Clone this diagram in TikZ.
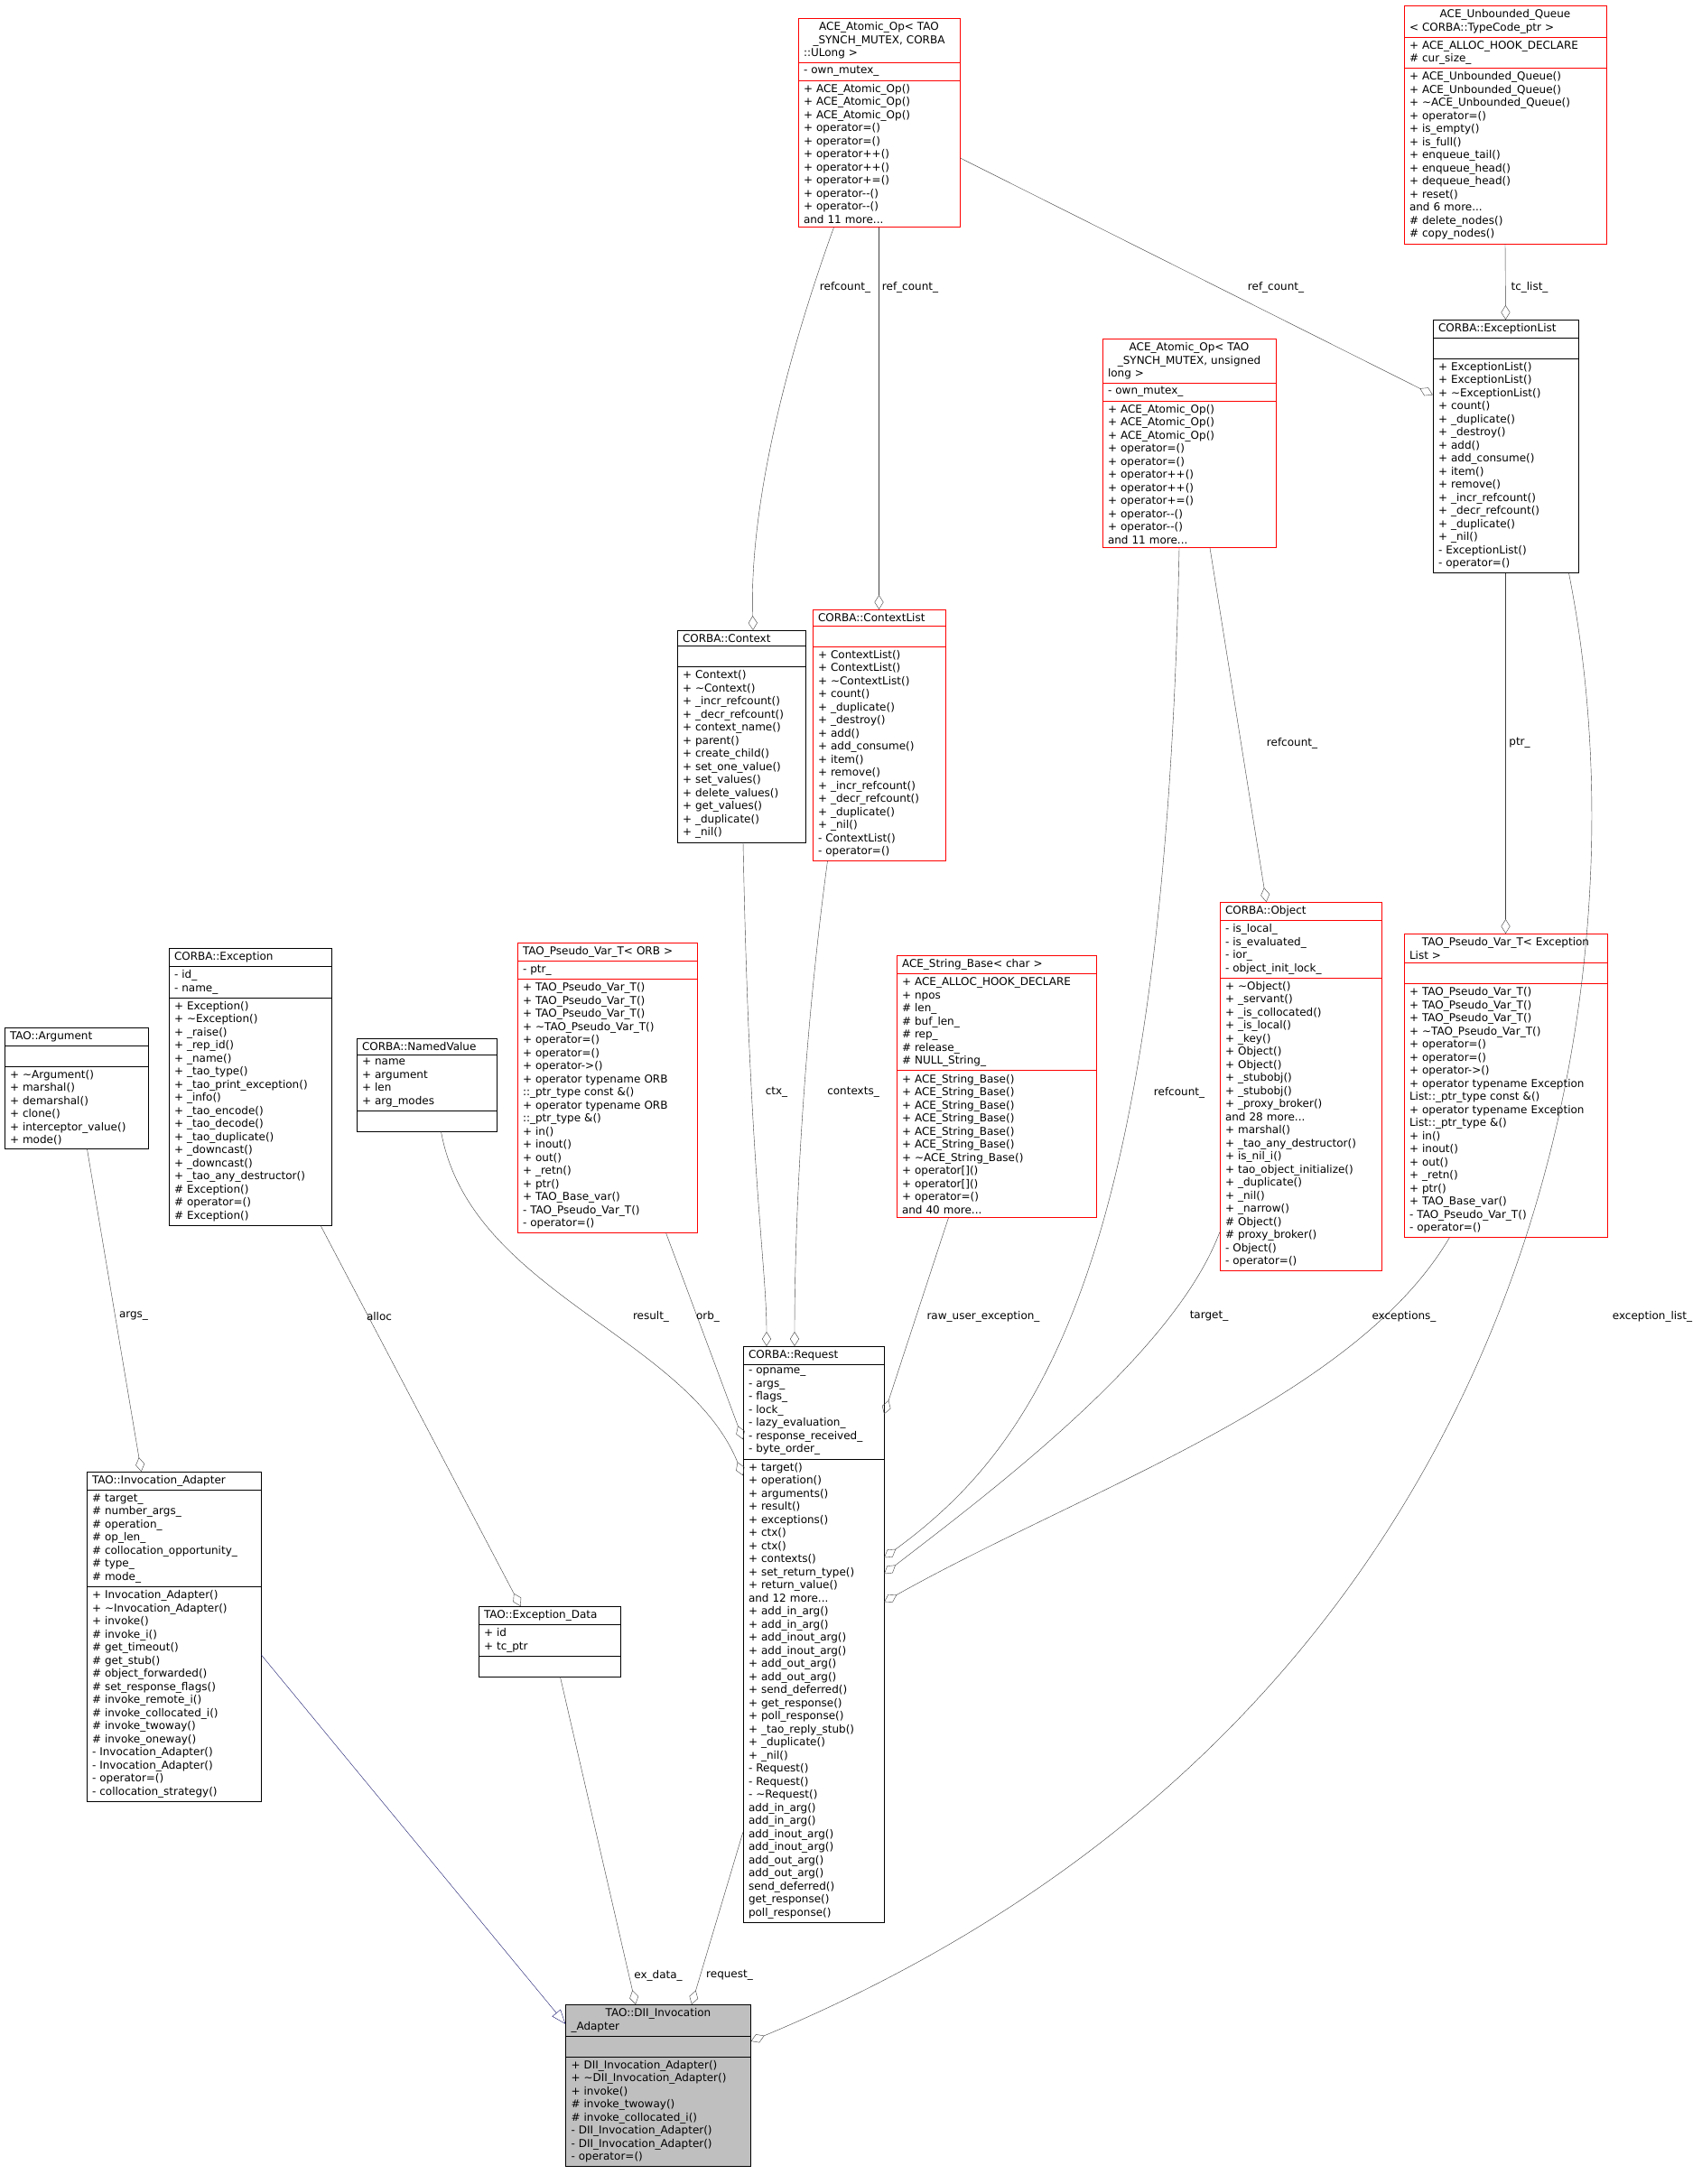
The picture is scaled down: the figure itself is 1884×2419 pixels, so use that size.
\documentclass[tikz,border=0pt]{standalone}
\usepackage{fontspec}
\setmainfont{DejaVu Sans}
\usetikzlibrary{shapes.multipart}
\usetikzlibrary{arrows.meta}

\tikzset{
	umlfont/.style={font=\fontsize{12}{14.5}\selectfont},
	umlclass/.style={rectangle split, rectangle split parts=3, draw=black, anchor=north,
		umlfont, align=left, inner xsep=6pt, inner ysep=4pt, text width=#1, fill=white},
	redclass/.style={umlclass=#1, draw=red},
	agg/.style={draw=black!75, -{Diamond[open,length=16pt,width=10pt]}},
	inherit/.style={draw={rgb,255:red,25;green,25;blue,112}, -{Triangle[open,length=16pt,width=12pt]}},
	edgelabel/.style={umlfont, inner sep=1pt}
}

\begin{document}
\begin{tikzpicture}[x=1pt,y=-1pt]

	\useasboundingbox[fill=white] (0,0) rectangle (1884,2419);

	\node[redclass=167] (atomicA) at (973.5,20) {\centering ACE\_Atomic\_Op< TAO\\\_SYNCH\_MUTEX, CORBA\\::ULong >
		\nodepart{two} - own\_mutex\_
		\nodepart{three} + ACE\_Atomic\_Op()\\+ ACE\_Atomic\_Op()\\+ ACE\_Atomic\_Op()\\+ operator=()\\+ operator=()\\+ operator++()\\+ operator++()\\+ operator+=()\\+ operator-{}-()\\+ operator-{}-()\\and 11 more...};

	\node[redclass=212] (queue) at (1667,6) {\centering ACE\_Unbounded\_Queue\\< CORBA::TypeCode\_ptr >
		\nodepart{two} + ACE\_ALLOC\_HOOK\_DECLARE\\\# cur\_size\_
		\nodepart{three} + ACE\_Unbounded\_Queue()\\+ ACE\_Unbounded\_Queue()\\+ \textasciitilde ACE\_Unbounded\_Queue()\\+ operator=()\\+ is\_empty()\\+ is\_full()\\+ enqueue\_tail()\\+ enqueue\_head()\\+ dequeue\_head()\\+ reset()\\and 6 more...\\\# delete\_nodes()\\\# copy\_nodes()};

	\node[umlclass=149] (exclist) at (1667.5,354) {\centering CORBA::ExceptionList
		\nodepart{two} \strut
		\nodepart{three} + ExceptionList()\\+ ExceptionList()\\+ \textasciitilde ExceptionList()\\+ count()\\+ \_duplicate()\\+ \_destroy()\\+ add()\\+ add\_consume()\\+ item()\\+ remove()\\+ \_incr\_refcount()\\+ \_decr\_refcount()\\+ \_duplicate()\\+ \_nil()\\- ExceptionList()\\- operator=()};

	\node[redclass=180] (atomicB) at (1317,375) {\centering ACE\_Atomic\_Op< TAO\\\_SYNCH\_MUTEX, unsigned\\long >
		\nodepart{two} - own\_mutex\_
		\nodepart{three} + ACE\_Atomic\_Op()\\+ ACE\_Atomic\_Op()\\+ ACE\_Atomic\_Op()\\+ operator=()\\+ operator=()\\+ operator++()\\+ operator++()\\+ operator+=()\\+ operator-{}-()\\+ operator-{}-()\\and 11 more...};

	\node[umlclass=130] (ctx) at (821,698) {\centering CORBA::Context
		\nodepart{two} \strut
		\nodepart{three} + Context()\\+ \textasciitilde Context()\\+ \_incr\_refcount()\\+ \_decr\_refcount()\\+ context\_name()\\+ parent()\\+ create\_child()\\+ set\_one\_value()\\+ set\_values()\\+ delete\_values()\\+ get\_values()\\+ \_duplicate()\\+ \_nil()};

	\node[redclass=135] (ctxlist) at (973.5,675) {\centering CORBA::ContextList
		\nodepart{two} \strut
		\nodepart{three} + ContextList()\\+ ContextList()\\+ \textasciitilde ContextList()\\+ count()\\+ \_duplicate()\\+ \_destroy()\\+ add()\\+ add\_consume()\\+ item()\\+ remove()\\+ \_incr\_refcount()\\+ \_decr\_refcount()\\+ \_duplicate()\\+ \_nil()\\- ContextList()\\- operator=()};

	\node[redclass=167] (object) at (1440.5,999) {\centering CORBA::Object
		\nodepart{two} - is\_local\_\\- is\_evaluated\_\\- ior\_\\- object\_init\_lock\_
		\nodepart{three} + \textasciitilde Object()\\+ \_servant()\\+ \_is\_collocated()\\+ \_is\_local()\\+ \_key()\\+ Object()\\+ Object()\\+ \_stubobj()\\+ \_stubobj()\\+ \_proxy\_broker()\\and 28 more...\\+ marshal()\\+ \_tao\_any\_destructor()\\+ is\_nil\_i()\\+ tao\_object\_initialize()\\+ \_duplicate()\\+ \_nil()\\+ \_narrow()\\\# Object()\\\# proxy\_broker()\\- Object()\\- operator=()};

	\node[redclass=213] (pseudoexc) at (1667.5,1034) {\centering TAO\_Pseudo\_Var\_T< Exception\\List >
		\nodepart{two} \strut
		\nodepart{three} + TAO\_Pseudo\_Var\_T()\\+ TAO\_Pseudo\_Var\_T()\\+ TAO\_Pseudo\_Var\_T()\\+ \textasciitilde TAO\_Pseudo\_Var\_T()\\+ operator=()\\+ operator=()\\+ operator->()\\+ operator typename Exception\\List::\_ptr\_type const \&()\\+ operator typename Exception\\List::\_ptr\_type \&()\\+ in()\\+ inout()\\+ out()\\+ \_retn()\\+ ptr()\\+ TAO\_Base\_var()\\- TAO\_Pseudo\_Var\_T()\\- operator=()};

	\node[redclass=209] (strbase) at (1103.5,1058) {\centering ACE\_String\_Base< char >
		\nodepart{two} + ACE\_ALLOC\_HOOK\_DECLARE\\+ npos\\\# len\_\\\# buf\_len\_\\\# rep\_\\\# release\_\\\# NULL\_String\_
		\nodepart{three} + ACE\_String\_Base()\\+ ACE\_String\_Base()\\+ ACE\_String\_Base()\\+ ACE\_String\_Base()\\+ ACE\_String\_Base()\\+ ACE\_String\_Base()\\+ \textasciitilde ACE\_String\_Base()\\+ operator[]()\\+ operator[]()\\+ operator=()\\and 40 more...};

	\node[redclass=187] (pseudoorb) at (672.5,1044) {\centering TAO\_Pseudo\_Var\_T< ORB >
		\nodepart{two} - ptr\_
		\nodepart{three} + TAO\_Pseudo\_Var\_T()\\+ TAO\_Pseudo\_Var\_T()\\+ TAO\_Pseudo\_Var\_T()\\+ \textasciitilde TAO\_Pseudo\_Var\_T()\\+ operator=()\\+ operator=()\\+ operator->()\\+ operator typename ORB\\::\_ptr\_type const \&()\\+ operator typename ORB\\::\_ptr\_type \&()\\+ in()\\+ inout()\\+ out()\\+ \_retn()\\+ ptr()\\+ TAO\_Base\_var()\\- TAO\_Pseudo\_Var\_T()\\- operator=()};

	\node[umlclass=143] (namedval) at (472.5,1150) {\centering CORBA::NamedValue
		\nodepart{two} + name\\+ argument\\+ len\\+ arg\_modes
		\nodepart{three} \strut};

	\node[umlclass=168] (exc) at (277,1050) {\centering CORBA::Exception
		\nodepart{two} - id\_\\- name\_
		\nodepart{three} + Exception()\\+ \textasciitilde Exception()\\+ \_raise()\\+ \_rep\_id()\\+ \_name()\\+ \_tao\_type()\\+ \_tao\_print\_exception()\\+ \_info()\\+ \_tao\_encode()\\+ \_tao\_decode()\\+ \_tao\_duplicate()\\+ \_downcast()\\+ \_downcast()\\+ \_tao\_any\_destructor()\\\# Exception()\\\# operator=()\\\# Exception()};

	\node[umlclass=147] (arg) at (84.5,1138) {\centering TAO::Argument
		\nodepart{two} \strut
		\nodepart{three} + \textasciitilde Argument()\\+ marshal()\\+ demarshal()\\+ clone()\\+ interceptor\_value()\\+ mode()};

	\node[umlclass=181] (inv) at (192.5,1630) {\centering TAO::Invocation\_Adapter
		\nodepart{two} \# target\_\\\# number\_args\_\\\# operation\_\\\# op\_len\_\\\# collocation\_opportunity\_\\\# type\_\\\# mode\_
		\nodepart{three} + Invocation\_Adapter()\\+ \textasciitilde Invocation\_Adapter()\\+ invoke()\\\# invoke\_i()\\\# get\_timeout()\\\# get\_stub()\\\# object\_forwarded()\\\# set\_response\_flags()\\\# invoke\_remote\_i()\\\# invoke\_collocated\_i()\\\# invoke\_twoway()\\\# invoke\_oneway()\\- Invocation\_Adapter()\\- Invocation\_Adapter()\\- operator=()\\- collocation\_strategy()};

	\node[umlclass=145] (excdata) at (608.5,1779) {\centering TAO::Exception\_Data
		\nodepart{two} + id\\+ tc\_ptr
		\nodepart{three} \strut};

	\node[umlclass=144] (req) at (901,1491) {\centering CORBA::Request
		\nodepart{two} - opname\_\\- args\_\\- flags\_\\- lock\_\\- lazy\_evaluation\_\\- response\_received\_\\- byte\_order\_
		\nodepart{three} + target()\\+ operation()\\+ arguments()\\+ result()\\+ exceptions()\\+ ctx()\\+ ctx()\\+ contexts()\\+ set\_return\_type()\\+ return\_value()\\and 12 more...\\+ add\_in\_arg()\\+ add\_in\_arg()\\+ add\_inout\_arg()\\+ add\_inout\_arg()\\+ add\_out\_arg()\\+ add\_out\_arg()\\+ send\_deferred()\\+ get\_response()\\+ poll\_response()\\+ \_tao\_reply\_stub()\\+ \_duplicate()\\+ \_nil()\\- Request()\\- Request()\\- \textasciitilde Request()\\* add\_in\_arg()\\* add\_in\_arg()\\* add\_inout\_arg()\\* add\_inout\_arg()\\* add\_out\_arg()\\* add\_out\_arg()\\* send\_deferred()\\* get\_response()\\* poll\_response()};

	\node[umlclass=193, fill=black!25] (dii) at (729,2220) {\centering TAO::DII\_Invocation\\\_Adapter
		\nodepart{two} \strut
		\nodepart{three} + DII\_Invocation\_Adapter()\\+ \textasciitilde DII\_Invocation\_Adapter()\\+ invoke()\\\# invoke\_twoway()\\\# invoke\_collocated\_i()\\- DII\_Invocation\_Adapter()\\- DII\_Invocation\_Adapter()\\- operator=()};

	% aggregations
	\draw[agg] ([xshift=-50pt]atomicA.south) .. controls (870,400) and (830,560) .. ([xshift=13pt]ctx.north);
	\draw[agg] (atomicA.south) -- (ctxlist.north);
	\draw[agg] ([yshift=-39pt]atomicA.east) -- ([yshift=57pt]exclist.west);
	\draw[agg] (queue.south) -- (exclist.north);
	\draw[agg] ([xshift=23pt]atomicB.south) -- ([xshift=-38pt]object.north);
	\draw[agg] (exclist.south) -- (pseudoexc.north);
	\draw[agg] ([xshift=70pt]exclist.south) .. controls (1830,1100) and (1700,1900) .. ([yshift=49pt]dii.east);
	\draw[agg] ([xshift=2pt]ctx.south) .. controls (830,1300) and (849,1400) .. ([xshift=-52pt]req.north);
	\draw[agg] ([xshift=-57pt]ctxlist.south) .. controls (890,1150) and (880,1350) .. ([xshift=-21pt]req.north);
	\draw[agg] ([xshift=-11pt]atomicB.south) .. controls (1290,1400) and (1150,1600) .. ([yshift=85pt]req.east);
	\draw[agg] ([yshift=43pt]object.south west) .. controls (1300,1500) and (1100,1650) .. ([yshift=67pt]req.east);
	\draw[agg] ([xshift=-62pt]pseudoexc.south) .. controls (1500,1550) and (1200,1650) .. ([yshift=36pt]req.east);
	\draw[agg] ([xshift=-53pt]strbase.south) -- ([yshift=244pt]req.east);
	\draw[agg] ([xshift=65pt]pseudoorb.south) -- ([yshift=216pt]req.west);
	\draw[agg] ([xshift=16pt]namedval.south) .. controls (520,1430) and (760,1480) .. ([yshift=176pt]req.west);
	\draw[agg] ([xshift=78pt]exc.south) -- ([xshift=-32pt]excdata.north);
	\draw[agg] ([xshift=12pt]arg.south) -- ([xshift=-36pt]inv.north);
	\draw[agg] ([xshift=12pt]excdata.south) -- ([xshift=-25pt]dii.north);
	\draw[agg] ([yshift=100pt]req.south west) -- ([xshift=37pt]dii.north);

	% inheritance
	\draw[inherit] ([yshift=-20pt]inv.east) -- ([yshift=68pt]dii.west);

	% labels
	\node[edgelabel] (lrefa) at (936,318) {refcount\_};
	\node[edgelabel] (lrefb) at (1008,318) {ref\_count\_};
	\node[edgelabel] (lrefc) at (1413,318) {ref\_count\_};
	\node[edgelabel] (ltclist) at (1694,318) {tc\_list\_};
	\node[edgelabel] (lrefd) at (1431,823) {refcount\_};
	\node[edgelabel] (lptr) at (1683,823) {ptr\_};
	\node[edgelabel] (lexclist) at (1830,1458) {exception\_list\_};
	\node[edgelabel] (lctx) at (860,1210) {ctx\_};
	\node[edgelabel] (lcontexts) at (945,1210) {contexts\_};
	\node[edgelabel] (lrefe) at (1306,1210) {refcount\_};
	\node[edgelabel] (ltarget) at (1339,1458) {target\_};
	\node[edgelabel] (lexceptions) at (1555,1458) {exceptions\_};
	\node[edgelabel] (lraw) at (1089,1458) {raw\_user\_exception\_};
	\node[edgelabel] (lorb) at (784,1458) {orb\_};
	\node[edgelabel] (lresult) at (721,1458) {result\_};
	\node[edgelabel] (lalloc) at (420,1458) {alloc};
	\node[edgelabel] (largs) at (148,1458) {args\_};
	\node[edgelabel] (lexdata) at (729,2188) {ex\_data\_};
	\node[edgelabel] (lrequest) at (808,2188) {request\_};

\end{tikzpicture}
\end{document}
